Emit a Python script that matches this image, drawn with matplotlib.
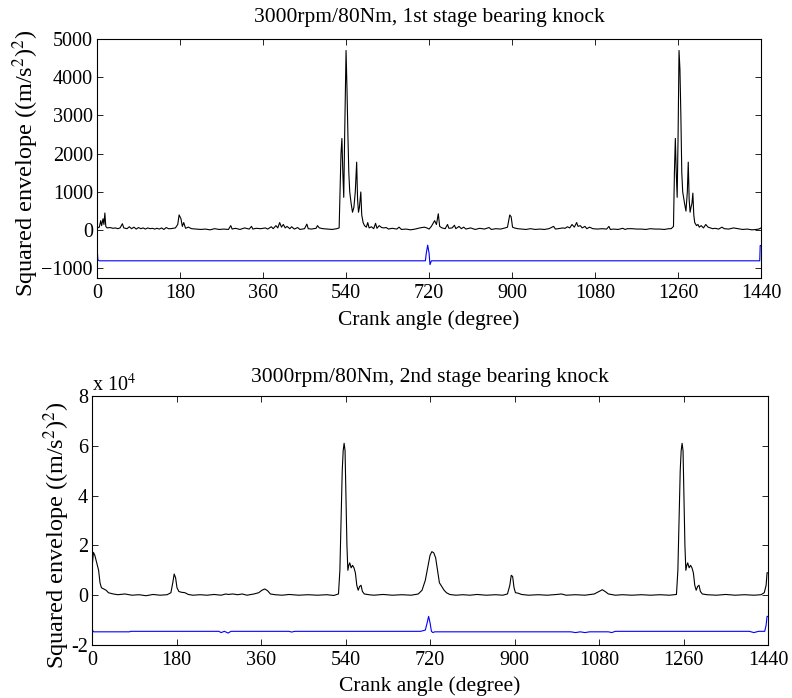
import matplotlib.pyplot as plt
from matplotlib.ticker import FuncFormatter

plt.rcParams['font.family'] = ['Liberation Serif', 'DejaVu Serif']
plt.rcParams['mathtext.fontset'] = 'stix'

# crank angle ticks
angle_ticks = [0, 180, 360, 540, 720, 900, 1080, 1260, 1440]

# --- 1st stage, black envelope
ang1 = [0, 5, 8, 10, 13, 15, 17, 19, 22, 28, 35, 40, 45, 50, 55, 58, 65, 70, 75, 80,
        85, 90, 95, 100, 105, 110, 115, 120, 125, 130, 135, 140, 145, 150, 155, 160, 165, 170,
        175, 178, 182, 185, 188, 192, 198, 205, 215, 225, 235, 245, 255, 265, 275, 285, 290,
        293, 300, 310, 320, 330, 335, 338, 345, 355, 365, 370, 378, 382, 388, 392, 396, 400,
        404, 408, 412, 418, 422, 428, 435, 440, 450, 455, 458, 465, 475, 478, 482, 490, 500,
        510, 520, 525, 527, 529, 531, 533, 535, 537, 540, 542, 544, 546, 548, 551, 554, 557,
        560, 563, 565, 567, 569, 572, 574, 577, 580, 584, 587, 590, 595, 600, 604, 607, 612,
        617, 622, 627, 632, 640, 650, 655, 660, 670, 680, 690, 700, 710, 715, 720, 725, 732,
        736, 740, 743, 748, 755, 760, 763, 770, 775, 778, 785, 790, 795, 800, 810, 820, 830,
        840, 850, 855, 865, 875, 885, 890, 895, 898, 901, 905, 912, 920, 930, 940, 950, 960,
        970, 980, 990, 994, 1000, 1010, 1015, 1020, 1025, 1030, 1035, 1040, 1043, 1048, 1052,
        1058, 1062, 1068, 1075, 1085, 1095, 1105, 1110, 1113, 1120, 1130, 1140, 1145, 1150,
        1160, 1170, 1180, 1190, 1200, 1210, 1220, 1230, 1240, 1245, 1250, 1252, 1254, 1256,
        1258, 1260, 1262, 1264, 1266, 1268, 1270, 1274, 1277, 1280, 1282, 1284, 1286, 1288,
        1290, 1292, 1294, 1296, 1300, 1303, 1306, 1310, 1315, 1320, 1325, 1330, 1335, 1340,
        1348, 1355, 1360, 1370, 1380, 1390, 1400, 1410, 1420, 1430, 1435, 1440]
env1 = [60, 80, 250, 120, 300, 150, 450, 100, 60, 70, 50, 60, 40, 60, 170, 60, 40, 90, 40, 80,
        30, 70, 40, 60, 30, 60, 40, 50, 30, 50, 30, 60, 20, 70, 40, 40, 50, 60,
        150, 400, 300, 100, 200, 50, 80, 40, 30, 20, 30, 10, 40, 20, 30, 20, 120,
        30, 50, 20, 60, 30, 100, 30, 50, 40, 60, 30, 90, 40, 120, 60, 200, 80,
        150, 60, 100, 40, 90, 30, 70, 20, 40, 160, 40, 30, 50, 120, 60, 40, 30,
        20, 40, 60, 1000, 2000, 2400, 1500, 860, 2500, 4700, 3700, 2500, 1500, 1000, 700, 470, 600,
        1000, 1780, 800, 470, 600, 1000, 400, 200, 120, 80, 200, 60, 90, 40, 180, 50, 120,
        70, 60, 70, 30, 50, 30, 80, 20, 30, 10, 30, 60, 80, 60, 30, 100, 250,
        150, 430, 100, 60, 40, 150, 50, 60, 130, 40, 100, 40, 80, 30, 60, 20, 50,
        30, 70, 20, 40, 30, 60, 80, 400, 350, 80, 60, 40, 30, 20, 40, 20, 30,
        20, 40, 100, 30, 40, 60, 50, 90, 60, 150, 80, 200, 100, 120, 60,
        100, 40, 80, 40, 30, 40, 30, 100, 20, 30, 20, 50, 20, 40,
        40, 30, 30, 20, 40, 30, 30, 20, 40, 40, 100, 1500, 2400, 1500,
        860, 2500, 4700, 4200, 3000, 1500, 1000, 700, 500, 1000, 1780, 800, 470, 600,
        700, 970, 400, 200, 120, 150, 80, 120, 60, 150, 80, 60, 40, 50,
        30, 80, 40, 30, 60, 40, 20, 30, 10, 20, 30, 60]

# --- 1st stage, blue reference trace
ref_ang1 = [0, 2, 5, 712, 714, 717, 720, 722, 725, 1437, 1438, 1440]
ref1 = [-450, -780, -800, -800, -600, -390, -600, -900, -800, -800, -400, -400]

# --- 2nd stage, black envelope (x 10^4)
ang2 = [0, 1, 3, 6, 10, 14, 17, 20, 25, 30, 35, 45, 55, 70, 85, 100, 115, 130, 145, 160,
        168, 172, 175, 178, 181, 185, 190, 198, 205, 215, 230, 245, 260, 275, 285, 290, 300,
        310, 320, 330, 345, 355, 362, 368, 374, 380, 390, 405, 420, 440, 460, 480, 500, 515,
        525, 528, 531, 533, 535, 537, 539, 541, 543, 545, 547, 549, 552, 555, 558, 561, 564,
        567, 570, 573, 576, 580, 590, 600, 620, 640, 660, 680, 695, 703, 710, 716, 720, 724,
        728, 732, 736, 740, 745, 750, 755, 762, 775, 790, 805, 820, 840, 860, 875, 885, 890,
        893, 896, 899, 902, 908, 915, 930, 950, 970, 990, 1000, 1010, 1030, 1050, 1070, 1080,
        1087, 1093, 1100, 1115, 1130, 1150, 1170, 1190, 1210, 1230, 1245, 1248, 1251, 1253,
        1255, 1257, 1259, 1261, 1263, 1265, 1267, 1269, 1272, 1275, 1278, 1281, 1284, 1287,
        1290, 1293, 1296, 1300, 1310, 1330, 1350, 1370, 1390, 1410, 1425, 1432, 1436, 1438,
        1440]
env2 = [0.9, 1.3, 1.72, 1.6, 1.3, 1.0, 0.5, 0.3, 0.25, 0.2, 0.1, 0.05, 0.02, 0.05, 0.0, 0.02, -0.02, 0.03, 0.0, 0.02,
        0.1, 0.5, 0.85, 0.7, 0.3, 0.15, 0.12, 0.1, 0.03, 0.0, 0.02, 0.0, 0.03, 0.0, 0.05, 0.03, 0.05,
        0.02, 0.05, 0.0, 0.05, 0.1, 0.2, 0.25, 0.18, 0.05, 0.02, 0.0, 0.03, 0.0, 0.02, 0.0, 0.02, -0.01,
        0.05, 1.0, 3.5, 5.0, 5.8, 6.1, 5.8, 4.0, 2.0, 1.0, 1.2, 1.3, 1.1, 1.2, 1.1, 0.9, 0.4,
        0.2, 0.35, 0.4, 0.15, 0.05, 0.02, 0.0, 0.03, 0.0, 0.02, 0.0, 0.05, 0.2, 0.6, 1.2, 1.6, 1.75,
        1.7, 1.5, 1.0, 0.5, 0.35, 0.2, 0.1, 0.03, 0.0, 0.02, 0.0, 0.03, 0.0, 0.02, 0.0, 0.05, 0.4,
        0.8, 0.75, 0.3, 0.1, 0.08, 0.03, 0.0, 0.02, 0.0, 0.03, 0.05, 0.0, 0.02, 0.0, 0.05, 0.15,
        0.22, 0.15, 0.05, 0.0, 0.02, 0.0, 0.02, 0.0, 0.02, 0.0, 0.03, 1.0, 3.5, 5.0,
        5.8, 6.1, 5.8, 4.0, 2.0, 1.0, 1.2, 1.3, 1.1, 1.2, 1.1, 0.9, 0.4, 0.2,
        0.35, 0.4, 0.15, 0.05, 0.02, 0.0, 0.03, 0.0, 0.02, 0.0, 0.02, 0.1, 0.4, 0.9,
        0.9]

# --- 2nd stage, blue reference trace (x 10^4)
ref_ang2 = [0, 1, 3, 80, 82, 270, 275, 282, 290, 296, 420, 425, 432, 700, 710, 714, 717, 720,
            723, 726, 730, 1020, 1030, 1040, 1050, 1060, 1100, 1107, 1115, 1400, 1410, 1420,
            1433, 1436, 1438, 1440]
ref2 = [-0.9, -1.4, -1.47, -1.47, -1.45, -1.45, -1.5, -1.45, -1.52, -1.45, -1.45, -1.48, -1.45,
        -1.45, -1.4, -1.1, -0.85, -1.1, -1.45, -1.5, -1.47, -1.47, -1.5, -1.47, -1.5, -1.47,
        -1.47, -1.5, -1.45, -1.45, -1.5, -1.45, -1.45, -1.2, -0.85, -0.85]

fs_tick = 14.5
fs_title = 15.5
fs_ylab = 17.5
ylab = 'Squared envelope ((m/s$^2$)$^2$)'

fig = plt.figure(figsize=(7.92, 6.98), dpi=100)

# top panel
ax1 = fig.add_axes([0.1225, 0.6017, 0.8385, 0.3424])
ax1.plot(ang1, env1, color='black', lw=0.8)
ax1.plot(ref_ang1, ref1, color='blue', lw=0.8)
ax1.set_xlim(0, 1440)
ax1.set_ylim(-1250, 5000)
ax1.set_xticks(angle_ticks)
ax1.set_yticks(range(-1000, 5001, 1000))
ax1.set_title('3000rpm/80Nm, 1st stage bearing knock', fontsize=fs_title, pad=12)
ax1.set_xlabel('Crank angle (degree)', fontsize=fs_title, labelpad=5.5)
ax1.set_ylabel(ylab, fontsize=fs_ylab)
ax1.yaxis.set_label_coords(-0.085, 0.48)

# bottom panel, values in units of 10^4
ax2 = fig.add_axes([0.1162, 0.0759, 0.8535, 0.3568])
ax2.plot(ang2, [v * 1e4 for v in env2], color='black', lw=0.8)
ax2.plot(ref_ang2, [v * 1e4 for v in ref2], color='blue', lw=0.8)
ax2.set_xlim(0, 1440)
ax2.set_ylim(-2e4, 8e4)
ax2.set_xticks(angle_ticks)
ax2.set_yticks([-2e4, 0, 2e4, 4e4, 6e4, 8e4])
ax2.yaxis.set_major_formatter(FuncFormatter(lambda v, p: '%g' % (v / 1e4)))
ax2.text(0.0, 1.0, 'x 10$^4$', transform=ax2.transAxes, fontsize=fs_tick, va='bottom', ha='left')
ax2.set_title('3000rpm/80Nm, 2nd stage bearing knock', fontsize=fs_title, pad=10)
ax2.set_xlabel('Crank angle (degree)', fontsize=fs_title, labelpad=4.5)
ax2.set_ylabel(ylab, fontsize=fs_ylab)
ax2.yaxis.set_label_coords(-0.03, 0.44)

for ax in (ax1, ax2):
    ax.tick_params(direction='in', length=4, width=0.6, labelsize=fs_tick,
                   top=True, right=True)
    ax.tick_params(axis='x', pad=4)
    ax.tick_params(axis='y', pad=3)
    for s in ax.spines.values():
        s.set_linewidth(0.8)

fig.savefig('out.png', dpi=100)
